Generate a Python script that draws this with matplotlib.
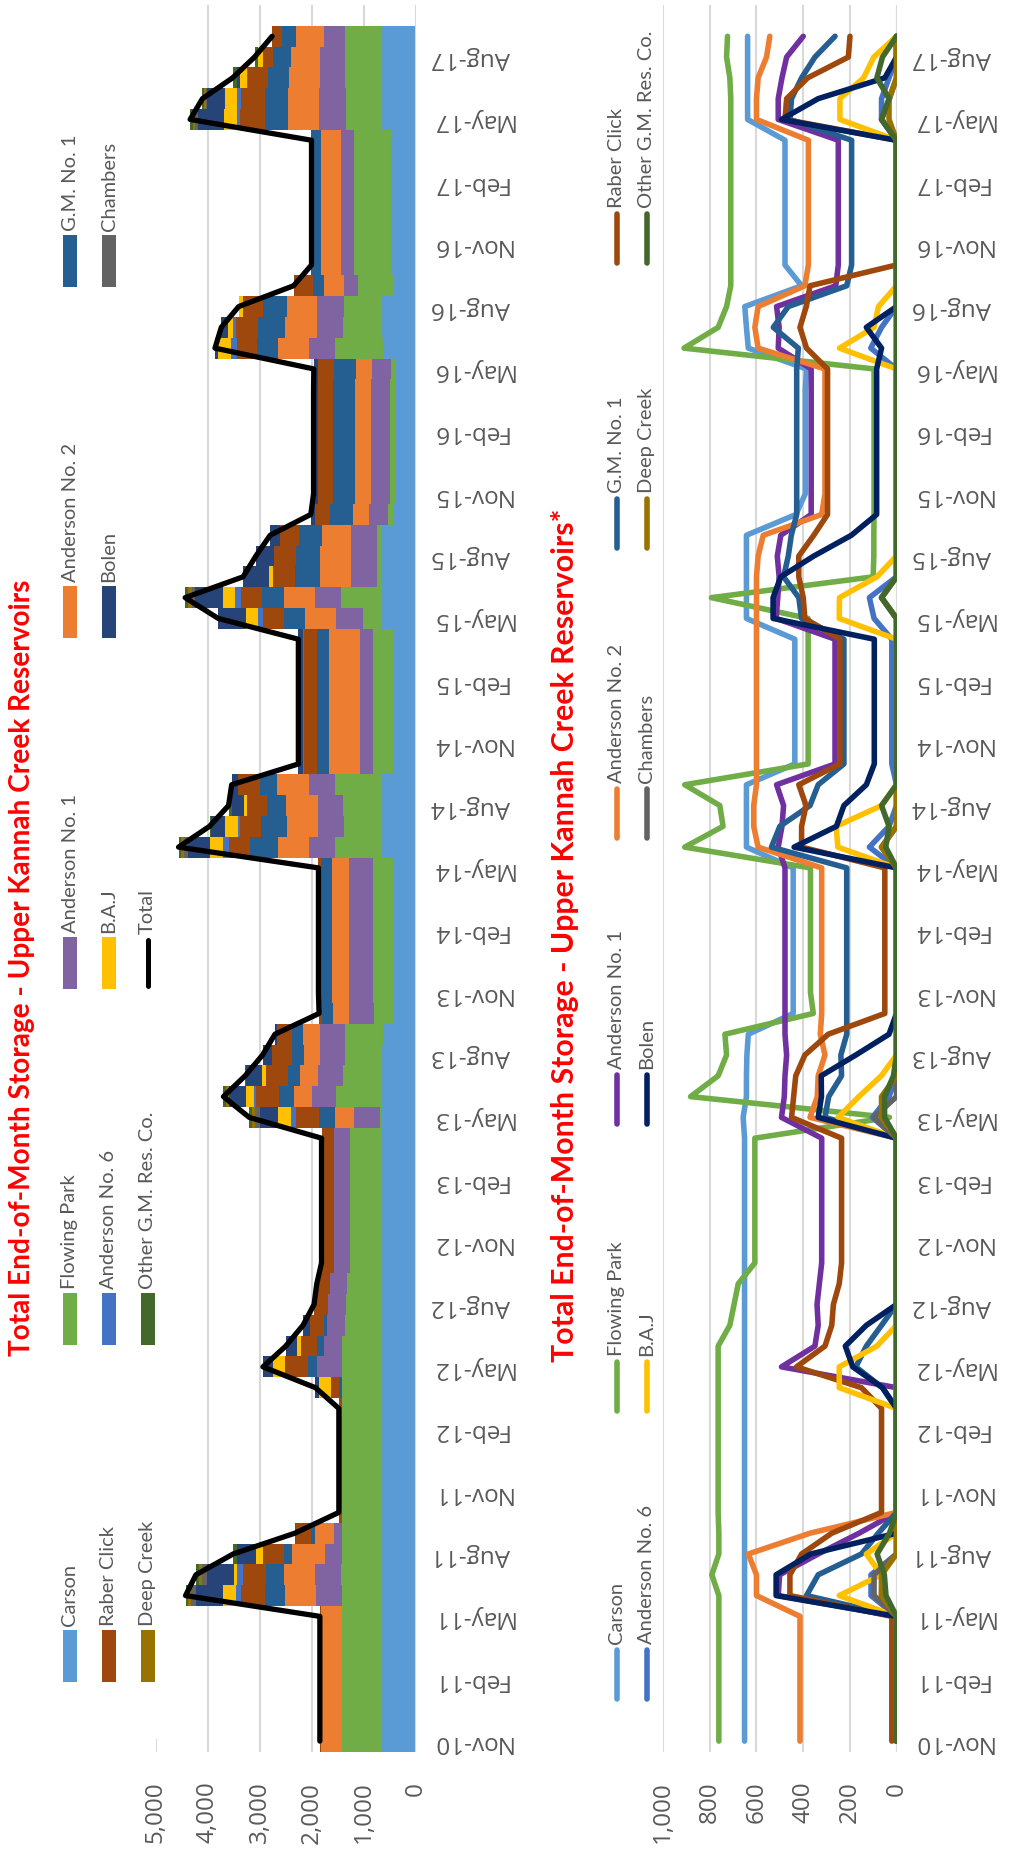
import numpy as np
import matplotlib
matplotlib.use("Agg")
import matplotlib.pyplot as plt
from matplotlib.patches import Rectangle
from matplotlib.lines import Line2D

# monthly end-of-month storage, Nov-10 .. Sep-17 (83 months)
carson = [650, 650, 650, 650, 650, 650, 650,
          650, 650, 650, 650,
          650, 650, 650, 650, 650, 650,
          650, 650, 650, 650, 650, 650,
          650, 650, 650, 650, 650, 650, 650,
          656, 642, 642, 640, 634,
          442, 442, 442, 442, 442, 442, 442, 442,
          642, 642, 642, 642,
          435, 435, 435, 435, 435, 435, 435,
          642, 642, 642, 642, 642,
          430, 390, 390, 390, 390, 390, 390, 385,
          634, 642, 649, 406,
          477, 477, 477, 477, 477, 477, 477,
          637, 637, 637, 637, 637]
flowing_park = [760, 760, 760, 760, 760, 760, 760,
                760, 790, 760, 760,
                763, 763, 763, 763, 763, 763,
                763, 763, 763, 713, 695, 677,
                606, 606, 606, 606, 606, 606, 606,
                30, 881, 763, 727, 734,
                356, 368, 368, 368, 368, 368, 368, 368,
                906, 742, 756, 906,
                378, 378, 378, 378, 378, 378, 378,
                378, 792, 100, 97, 97,
                96, 96, 96, 96, 96, 96, 96, 96,
                909, 763, 727, 709,
                709, 709, 709, 709, 709, 709, 709,
                709, 709, 713, 727, 723]
anderson1 = [0, 0, 0, 0, 0, 0, 0,
             506, 500, 335, 160,
             0, 0, 0, 0, 0, 0,
             0, 492, 349, 335, 340, 330,
             320, 320, 320, 320, 320, 320, 320,
             492, 480, 477, 470, 477,
             477, 477, 477, 477, 477, 477, 477, 477,
             506, 490, 483, 513,
             263, 263, 263, 263, 263, 263, 263,
             515, 508, 502, 510, 495,
             365, 365, 365, 365, 365, 365, 365, 365,
             506, 502, 513, 260,
             249, 249, 249, 249, 249, 249, 249,
             506, 506, 490, 470, 399]
anderson2 = [413, 413, 413, 413, 413, 413, 413,
             599, 599, 634, 370,
             0, 0, 0, 0, 0, 0,
             0, 0, 0, 0, 0, 0,
             0, 0, 0, 0, 0, 0, 0,
             370, 339, 335, 306, 326,
             320, 320, 320, 320, 320, 320, 320, 320,
             592, 611, 611, 599,
             599, 599, 599, 599, 599, 599, 599,
             599, 599, 599, 592, 570,
             320, 306, 306, 306, 306, 306, 306, 306,
             592, 606, 592, 392,
             377, 377, 377, 377, 377, 377, 377,
             599, 599, 592, 556, 542]
gm1 = [0, 0, 0, 0, 0, 0, 0,
       385, 335, 150, 78,
       0, 0, 0, 0, 0, 0,
       60, 174, 129, 64, 0, 0,
       0, 0, 0, 0, 0, 0, 0,
       306, 290, 235, 238, 213,
       213, 213, 213, 213, 213, 213, 213, 213,
       535, 499, 370, 335,
       225, 225, 225, 225, 225, 225, 225,
       406, 418, 483, 463, 450,
       427, 427, 427, 427, 427, 427, 427, 427,
       420, 527, 463, 213,
       192, 192, 192, 192, 192, 192, 192,
       456, 449, 406, 349, 263]
raber = [20, 20, 20, 20, 20, 20, 20,
         456, 456, 406, 277,
         64, 64, 64, 64, 64, 64,
         150, 428, 306, 277, 270, 245,
         235, 235, 235, 235, 235, 235, 235,
         449, 440, 431, 392, 292,
         50, 50, 50, 50, 50, 50, 50, 50,
         406, 406, 387, 418,
         242, 242, 242, 242, 242, 242, 242,
         392, 399, 418, 418, 354,
         295, 295, 295, 295, 295, 295, 295, 295,
         385, 413, 386, 370,
         0, 0, 0, 0, 0, 0, 0,
         477, 470, 380, 206, 199]
anderson6 = [0, 0, 0, 0, 0, 0, 0,
             109, 109, 0, 0,
             0, 0, 0, 0, 0, 0,
             0, 0, 0, 0, 0, 0,
             0, 0, 0, 0, 0, 0, 0,
             103, 32, 0, 0, 0,
             0, 0, 0, 0, 0, 0, 0, 0,
             116, 32, 0, 0,
             20, 20, 20, 20, 20, 20, 20,
             96, 116, 0, 0, 0,
             0, 0, 0, 0, 0, 0, 0, 0,
             110, 64, 0, 0,
             0, 0, 0, 0, 0, 0, 0,
             64, 64, 32, 0, 0]
baj = [0, 0, 0, 0, 0, 0, 0,
       245, 65, 129, 0,
       0, 0, 0, 0, 0, 0,
       245, 245, 84, 0, 0, 0,
       0, 0, 0, 0, 0, 0, 0,
       250, 161, 65, 0, 0,
       0, 0, 0, 0, 0, 0, 0, 0,
       251, 258, 64, 0,
       0, 0, 0, 0, 0, 0, 0,
       245, 244, 84, 0, 0,
       0, 0, 0, 0, 0, 0, 0, 0,
       244, 96, 77, 0,
       0, 0, 0, 0, 0, 0, 0,
       242, 242, 141, 97, 0]
bolen = [0, 0, 0, 0, 0, 0, 0,
         515, 515, 367, 0,
         0, 0, 0, 0, 0, 0,
         60, 187, 219, 129, 0, 0,
         0, 0, 0, 0, 0, 0, 0,
         335, 321, 322, 174, 32,
         0, 0, 0, 0, 0, 0, 0, 0,
         438, 257, 225, 129,
         95, 95, 95, 95, 95, 95, 95,
         528, 528, 495, 354, 193,
         85, 85, 85, 85, 85, 85, 85, 85,
         64, 129, 0, 0,
         0, 0, 0, 0, 0, 0, 0,
         492, 335, 50, 0, 0]
chambers = [0, 0, 0, 0, 0, 0, 0,
            96, 96, 0, 0,
            0, 0, 0, 0, 0, 0,
            0, 0, 0, 0, 0, 0,
            0, 0, 0, 0, 0, 0, 0,
            97, 0, 0, 0, 0,
            0, 0, 0, 0, 0, 0, 0, 0,
            64, 0, 0, 0,
            0, 0, 0, 0, 0, 0, 0,
            0, 64, 0, 0, 0,
            0, 0, 0, 0, 0, 0, 0, 0,
            0, 0, 0, 0,
            0, 0, 0, 0, 0, 0, 0,
            64, 30, 0, 0, 0]
deep_creek = [0, 0, 0, 0, 0, 0, 0,
              65, 64, 0, 0,
              0, 0, 0, 0, 0, 0,
              0, 0, 0, 0, 0, 0,
              0, 0, 0, 0, 0, 0, 0,
              64, 64, 0, 0, 0,
              0, 0, 0, 0, 0, 0, 0, 0,
              64, 0, 0, 0,
              0, 0, 0, 0, 0, 0, 0,
              0, 64, 0, 0, 0,
              0, 0, 0, 0, 0, 0, 0, 0,
              0, 0, 0, 0,
              0, 0, 0, 0, 0, 0, 0,
              32, 32, 0, 0, 0]
other_gm = [0, 0, 0, 0, 0, 0, 0,
            45, 52, 83, 30,
            0, 0, 0, 0, 0, 0,
            0, 0, 0, 0, 0, 0,
            0, 0, 0, 0, 0, 0, 0,
            51, 51, 13, 0, 0,
            0, 0, 0, 0, 0, 0, 0, 0,
            46, 32, 64, 0,
            0, 0, 0, 0, 0, 0, 0,
            0, 64, 0, 0, 0,
            0, 0, 0, 0, 0, 0, 0, 0,
            0, 0, 0, 0,
            0, 0, 0, 0, 0, 0, 0,
            64, 32, 84, 60, 0]

names = ["Carson", "Flowing Park", "Anderson No. 1", "Anderson No. 2", "G.M. No. 1",
         "Raber Click", "Anderson No. 6", "B.A.J", "Bolen", "Chambers",
         "Deep Creek", "Other G.M. Res. Co."]
series = [carson, flowing_park, anderson1, anderson2, gm1, raber,
          anderson6, baj, bolen, chambers, deep_creek, other_gm]
colors_area = ["#5B9BD5", "#70AD47", "#8064A2", "#ED7D31", "#255E91", "#9E480E",
               "#4472C4", "#FFC000", "#264478", "#636363", "#997300", "#43682B"]
colors_line = ["#5B9BD5", "#70AD47", "#7030A0", "#ED7D31", "#255E91", "#9E480E",
               "#4472C4", "#FFC000", "#002060", "#636363", "#997300", "#43682B"]

date_labels = ["Nov-10", "Feb-11", "May-11", "Aug-11", "Nov-11", "Feb-12", "May-12",
               "Aug-12", "Nov-12", "Feb-13", "May-13", "Aug-13", "Nov-13", "Feb-14",
               "May-14", "Aug-14", "Nov-14", "Feb-15", "May-15", "Aug-15", "Nov-15",
               "Feb-16", "May-16", "Aug-16", "Nov-16", "Feb-17", "May-17", "Aug-17"]
ticks1 = [0, 1000, 2000, 3000, 4000, 5000]
ticks1_lab = ["0", "1,000", "2,000", "3,000", "4,000", "5,000"]
ticks2 = [0, 200, 400, 600, 800, 1000]
ticks2_lab = ["0", "200", "400", "600", "800", "1,000"]

title1 = "Total End-of-Month Storage - Upper Kannah Creek Reservoirs"
title2 = "Total End-of-Month Storage - Upper Kannah Creek Reservoirs*"

W, H = 1009, 1858
fig = plt.figure(figsize=(W / 100, H / 100), dpi=100)
fig.patch.set_facecolor("white")

GRAY = "#595959"
TICKFONT = ["Open Sans", "DejaVu Sans"]
LEGFONT = ["Lato", "DejaVu Sans"]

y_top, y_bot = 6.1, 1752.5
idx = np.arange(len(carson))
data = np.array(series, dtype=float)


def frame(x0, x1):
    return [x0 / W, (H - y_bot) / H, (x1 - x0) / W, (y_bot - y_top) / H]


def style_axes(ax, vmax, ticks, tick_lab):
    ax.set_xlim(vmax, 0)
    ax.set_ylim(-0.5, 83.5)
    for s in ax.spines.values():
        s.set_visible(False)
    ax.set_xticks(ticks)
    ax.set_xticklabels(tick_lab, rotation=90, fontsize=17.5, color=GRAY, family=TICKFONT)
    ax.tick_params(axis="x", length=0, pad=21)
    ax.yaxis.tick_right()
    ax.set_yticks(idx[::3])
    ax.set_yticklabels(date_labels, rotation=180, fontsize=17.5, color=GRAY,
                       family=TICKFONT, va="center", ha="left")
    ax.tick_params(axis="y", length=0, pad=11)
    ax.grid(axis="x", color="#D9D9D9", lw=1.5)
    ax.set_axisbelow(True)


# stacked storage
ax1 = fig.add_axes(frame(156, 415.5))
style_axes(ax1, 5000, ticks1, ticks1_lab)
left = np.zeros(len(idx))
for vals, col in zip(data, colors_area):
    ax1.barh(idx, vals, left=left, height=1.0, color=col, linewidth=0, zorder=2)
    left = left + vals
ax1.plot(data.sum(axis=0), idx, color="black", lw=3.8, solid_joinstyle="round",
         solid_capstyle="round", zorder=4)
ax1.axvline(0, color="#D9D9D9", lw=1.5, zorder=3)

# individual reservoirs
ax2 = fig.add_axes(frame(662.75, 896.5))
style_axes(ax2, 1000, ticks2, ticks2_lab)
ax2.axvline(0, color="#D9D9D9", lw=1.5, zorder=1)
for vals, col in zip(data, colors_line):
    ax2.plot(vals, idx, color=col, lw=4.0, solid_joinstyle="round",
             solid_capstyle="round", zorder=3)

# titles and legends drawn in pixel space
ov = fig.add_axes([0, 0, 1, 1])
ov.set_xlim(0, W)
ov.set_ylim(H, 0)
ov.axis("off")
ov.add_patch(Rectangle((0, 0), 160, 1740, facecolor="white", edgecolor="none"))

ov.text(22, 968, title1, rotation=90, ha="center", va="center", color="#FF0000",
        fontsize=20.2, fontweight="bold", family=LEGFONT)
ov.text(565, 935, title2, rotation=90, ha="center", va="center", color="#FF0000",
        fontsize=21.8, fontweight="bold", family=LEGFONT)


def entry(xc, yb, col, label, kind, length):
    if kind == "patch":
        ov.add_patch(Rectangle((xc - 7, yb - length), 14, length, facecolor=col,
                               edgecolor="none"))
        gap = 5
    else:
        lw = 3.6 if kind == "total" else 4.0
        ov.add_line(Line2D([xc, xc], [yb - 3, yb - length + 3], color=col, lw=lw,
                           solid_capstyle="round"))
        gap = 4
    ov.text(xc, yb - length - gap, label, rotation=90, ha="center", va="bottom",
            color=GRAY, fontsize=14.5, family=LEGFONT)


rows1 = [1683, 1346, 990, 639, 288]
cols1 = [70, 109, 147.5]
for k, (nm, col) in enumerate(zip(names, colors_area)):
    entry(cols1[k // 5], rows1[k % 5], col, nm, "patch", 52)
entry(cols1[2], rows1[2], "black", "Total", "total", 52)

rows2 = [1703, 1415, 1128, 842, 552, 267]
cols2 = [616.5, 646.5]
for k, (nm, col) in enumerate(zip(names, colors_line)):
    entry(cols2[k // 6], rows2[k % 6], col, nm, "line", 55)

fig.savefig("out.png", dpi=100, facecolor="white")
